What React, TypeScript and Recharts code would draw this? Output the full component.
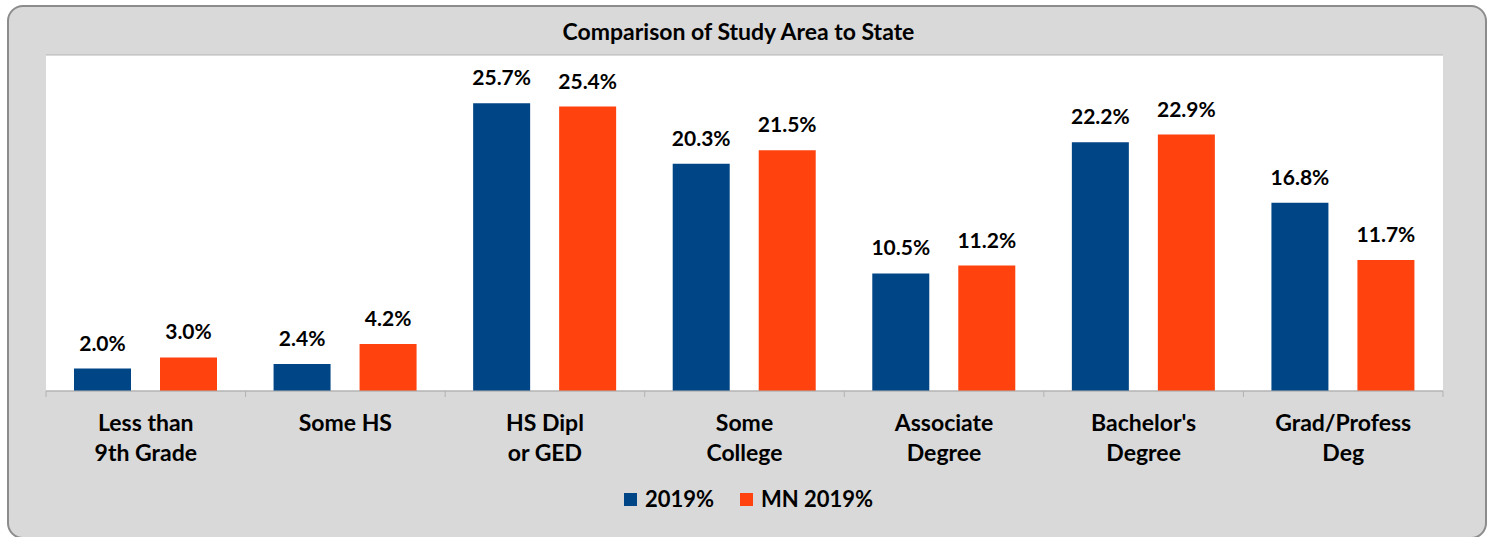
import React from 'react';
import { BarChart, Bar, XAxis, YAxis, CartesianGrid, LabelList, Legend } from 'recharts';

const categories = [
  'Less than\n9th Grade',
  'Some HS',
  'HS Dipl\nor GED',
  'Some\nCollege',
  'Associate\nDegree',
  "Bachelor's\nDegree",
  'Grad/Profess\nDeg',
];
const study2019 = [2.0, 2.4, 25.7, 20.3, 10.5, 22.2, 16.8];
const mn2019 = [3.0, 4.2, 25.4, 21.5, 11.2, 22.9, 11.7];
const yTicks = [0, 5, 10, 15, 20, 25, 30];
const seriesNames = ['2019%', 'MN 2019%'];
const colors = ['#004586', '#FF420E'];
const title = 'Comparison of Study Area to State';

const data = categories.map((c, i) => ({ cat: c, a: study2019[i], b: mn2019[i] }));

const FONT = 'Lato, "Open Sans", sans-serif';

const Tick = (props: any) => {
  const { x, y, payload, index, visibleTicksCount } = props;
  const half = payload.offset ?? 0;
  const lines = String(payload.value).split('\n');
  const isLast = index === visibleTicksCount - 1;
  return (
    <g>
      <line x1={x - half} x2={x - half} y1={y} y2={y + 6} stroke="#b3b3b3" strokeWidth={1} />
      {isLast && <line x1={x + half} x2={x + half} y1={y} y2={y + 6} stroke="#b3b3b3" strokeWidth={1} />}
      <text x={x} y={y + 40} textAnchor="middle" fontFamily={FONT} fontWeight={700} fontSize={23} fill="#000">
        {lines.map((l, i) => (
          <tspan key={i} x={x} dy={i === 0 ? 0 : 30}>{l}</tspan>
        ))}
      </text>
    </g>
  );
};

const renderLabel = (props: any) => {
  const { x, y, width, value } = props;
  return (
    <text x={x + width / 2} y={y - 18} textAnchor="middle" fontFamily={FONT} fontWeight={700} fontSize={21} fill="#000">
      {Number(value).toFixed(1)}%
    </text>
  );
};

const LegendContent = (props: any) => {
  const { payload } = props;
  return (
    <div style={{ display: 'flex', justifyContent: 'center', alignItems: 'center', fontFamily: FONT, fontWeight: 700, fontSize: 22, lineHeight: '24px', color: '#000' }}>
      {(payload || []).map((p: any, i: number) => (
        <div key={i} style={{ display: 'flex', alignItems: 'center', marginRight: i === 0 ? 26 : 0 }}>
          <div style={{ width: 13, height: 13, background: p.color, marginRight: 8 }} />
          <span>{p.value}</span>
        </div>
      ))}
    </div>
  );
};

export default function App() {
  return (
    <div style={{ position: 'absolute', left: 0, top: 0, width: 1493, height: 537, overflow: 'hidden' }}>
      <div
        style={{
          position: 'absolute',
          left: 7,
          top: 5,
          width: 1476,
          height: 530,
          background: '#d9d9d9',
          border: '2px solid #8c8c8c',
          borderRadius: 16,
        }}
      />
      <div
        style={{
          position: 'absolute',
          left: 0,
          top: 18,
          width: 1477,
          textAlign: 'center',
          fontFamily: FONT,
          fontWeight: 700,
          fontSize: 23,
          lineHeight: '26px',
          color: '#000',
        }}
      >
        {title}
      </div>
      <div style={{ position: 'absolute', left: 0, top: 0 }}>
        <BarChart
          width={1493}
          height={537}
          data={data}
          margin={{ top: 55, right: 50, left: 46, bottom: 0 }}
          barSize={57}
          barGap={29}
        >
          <CartesianGrid vertical={false} stroke="#b3b3b3" fill="#ffffff" />
          <YAxis
            width={0}
            domain={[0, 30]}
            ticks={yTicks}
            tick={false}
            tickLine={false}
            axisLine={{ stroke: '#b3b3b3' }}
          />
          <XAxis
            dataKey="cat"
            height={146}
            interval={0}
            tickSize={0}
            tickMargin={0}
            tickLine={false}
            axisLine={{ stroke: '#b3b3b3' }}
            tick={<Tick />}
          />
          <Legend
            verticalAlign="middle"
            align="center"
            layout="horizontal"
            wrapperStyle={{ top: 487, left: 0, width: 1497 }}
            content={<LegendContent />}
          />
          <Bar dataKey="a" name={seriesNames[0]} fill={colors[0]} isAnimationActive={false}>
            <LabelList dataKey="a" content={renderLabel} />
          </Bar>
          <Bar dataKey="b" name={seriesNames[1]} fill={colors[1]} isAnimationActive={false}>
            <LabelList dataKey="b" content={renderLabel} />
          </Bar>
        </BarChart>
      </div>
    </div>
  );
}
